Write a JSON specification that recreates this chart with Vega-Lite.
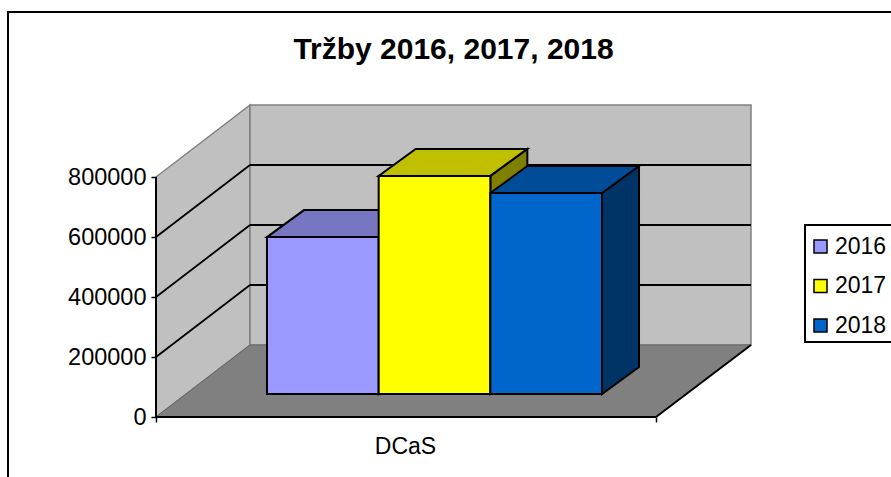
{
"$schema":"https://vega.github.io/schema/vega-lite/v6.json",
"width":595,"height":312,
"autosize":{"type":"none"},
"padding":{"left":156,"top":105,"right":140,"bottom":60},
"background":"white",
"title":{"text":"Tržby 2016, 2017, 2018","font":"Liberation Sans","fontSize":30,"fontWeight":"bold","color":"black","anchor":"middle","frame":"group","offset":-54,"zindex":1},
"config":{"view":{"stroke":null},"font":"Liberation Sans"},
"datasets":{
"bars":[{"year":2016,"value":523000},{"year":2017,"value":727000},{"year":2018,"value":670000}],
"frame":[{"xa":-148,"xb":760,"ya":1350000,"yb":-260000}],
"legendBox":[{"xa":649,"xb":760,"ya":640000,"yb":250000}],
"leftWall":[{"xa":0,"ya":0,"yb":800000},{"xa":94,"ya":240000,"yb":1040000}],
"backWall":[{"xa":94,"xb":595,"ya":240000,"yb":1040000}],
"floor":[{"xa":0,"ya":0,"yb":0},{"xa":94,"ya":0,"yb":240000},{"xa":500,"ya":0,"yb":240000},{"xa":595,"ya":240000,"yb":240000}],
"grid":[{"xa":0,"xb":94,"ya":200000,"yb":440000},{"xa":0,"xb":94,"ya":400000,"yb":640000},{"xa":0,"xb":94,"ya":600000,"yb":840000},{"xa":94,"xb":595,"ya":440000,"yb":440000},{"xa":94,"xb":595,"ya":640000,"yb":640000},{"xa":94,"xb":595,"ya":840000,"yb":840000}],
"edges":[{"xa":0,"xb":0,"ya":0,"yb":800000},{"xa":0,"xb":500,"ya":0,"yb":0},{"xa":500,"xb":595,"ya":0,"yb":240000}]
},
"layer":[
{"data":{"name":"frame"},"mark":{"type":"rect","filled":false,"stroke":"black","strokeWidth":2},
"encoding":{"x":{"field":"xa","type":"quantitative","scale":{"domain":[0,595],"nice":false,"zero":false},"axis":{"values":[0,500],"labels":false,"domain":false,"grid":false,"ticks":true,"tickSize":5,"tickColor":"black","tickWidth":1.5,"title":"DCaS","titleFont":"Liberation Sans","titleFontSize":23,"titleFontWeight":"normal","titleColor":"black","titleX":249,"titleY":18,"zindex":1}},
"x2":{"field":"xb"},
"y":{"field":"ya","type":"quantitative","scale":{"domain":[0,1040000],"nice":false,"zero":false},"axis":{"values":[0,200000,400000,600000,800000],"format":"d","domain":false,"grid":false,"tickSize":5,"tickColor":"black","tickWidth":1.5,"labelFont":"Liberation Sans","labelFontSize":23.5,"labelColor":"black","labelPadding":5,"title":null,"zindex":1}},
"y2":{"field":"yb"}}},
{"data":{"name":"legendBox"},"mark":{"type":"rect","fill":"white","stroke":"black","strokeWidth":2},
"encoding":{"x":{"field":"xa","type":"quantitative"},"x2":{"field":"xb"},"y":{"field":"ya","type":"quantitative"},"y2":{"field":"yb"}}},
{"data":{"name":"leftWall"},"mark":{"type":"area","orient":"vertical","fill":"#c0c0c0","stroke":"#808080","strokeWidth":1.5},
"encoding":{"x":{"field":"xa","type":"quantitative"},"y":{"field":"ya","type":"quantitative"},"y2":{"field":"yb"}}},
{"data":{"name":"backWall"},"mark":{"type":"rect","fill":"#c0c0c0","stroke":"#808080","strokeWidth":1.5},
"encoding":{"x":{"field":"xa","type":"quantitative"},"x2":{"field":"xb"},"y":{"field":"ya","type":"quantitative"},"y2":{"field":"yb"}}},
{"data":{"name":"floor"},"mark":{"type":"area","orient":"vertical","fill":"#808080","stroke":"#666666","strokeWidth":1},
"encoding":{"x":{"field":"xa","type":"quantitative"},"y":{"field":"ya","type":"quantitative"},"y2":{"field":"yb"}}},
{"data":{"name":"grid"},"mark":{"type":"rule","color":"black","strokeWidth":1.8},
"encoding":{"x":{"field":"xa","type":"quantitative"},"x2":{"field":"xb"},"y":{"field":"ya","type":"quantitative"},"y2":{"field":"yb"}}},
{"data":{"name":"edges"},"mark":{"type":"rule","color":"black","strokeWidth":2},
"encoding":{"x":{"field":"xa","type":"quantitative"},"x2":{"field":"xb"},"y":{"field":"ya","type":"quantitative"},"y2":{"field":"yb"}}},
{"data":{"name":"bars"},
"transform":[{"calculate":"[0,1]","as":"pt"},{"flatten":["pt"]},
{"calculate":"111+(datum.year-2016)*111.67+111.67+37*datum.pt","as":"px"},
{"calculate":"76667+datum.value+90000*datum.pt","as":"top"},
{"calculate":"76667+90000*datum.pt","as":"base"}],
"mark":{"type":"area","orient":"vertical","stroke":"black","strokeWidth":2},
"encoding":{"x":{"field":"px","type":"quantitative"},"y":{"field":"top","type":"quantitative"},"y2":{"field":"base"},
"color":{"field":"year","type":"nominal","legend":null,"scale":{"domain":[2016,2017,2018],"range":["#4c4c80","#808000","#003366"]}}}},
{"data":{"name":"bars"},
"transform":[{"calculate":"[0,1,2,3]","as":"pt"},{"flatten":["pt"]},
{"calculate":"111+(datum.year-2016)*111.67+(datum.pt==0?0:datum.pt==1?37:datum.pt==2?111.67:148.67)","as":"px"},
{"calculate":"76667+datum.value+(datum.pt==3?90000:0)","as":"low"},
{"calculate":"76667+datum.value+(datum.pt==0?0:90000)","as":"high"}],
"mark":{"type":"area","orient":"vertical","stroke":"black","strokeWidth":2},
"encoding":{"x":{"field":"px","type":"quantitative"},"y":{"field":"low","type":"quantitative"},"y2":{"field":"high"},
"color":{"field":"year","type":"nominal","legend":null,"scale":{"domain":[2016,2017,2018],"range":["#7676c2","#c0c000","#004c99"]}}}},
{"data":{"name":"bars"},
"transform":[
{"calculate":"111+(datum.year-2016)*111.67","as":"left"},
{"calculate":"datum.left+111.67","as":"right"},
{"calculate":"76667","as":"base"},
{"calculate":"76667+datum.value","as":"top"}],
"mark":{"type":"rect","stroke":"black","strokeWidth":2},
"encoding":{"x":{"field":"left","type":"quantitative"},"x2":{"field":"right"},"y":{"field":"top","type":"quantitative"},"y2":{"field":"base"},
"color":{"field":"year","type":"nominal","scale":{"domain":[2016,2017,2018],"range":["#9999ff","#ffff00","#0066cc"]},
"legend":{"title":null,"orient":"none","legendX":649,"legendY":122,"padding":8,"rowPadding":15.5,"symbolOffset":-4,"symbolType":"square","symbolSize":169,"symbolStrokeColor":"black","symbolStrokeWidth":1.5,"symbolOpacity":1,"labelFont":"Liberation Sans","labelFontSize":23,"labelColor":"black","labelOffset":3,"labelLimit":200}}}}
],
"resolve":{"scale":{"color":"independent"}}
}
